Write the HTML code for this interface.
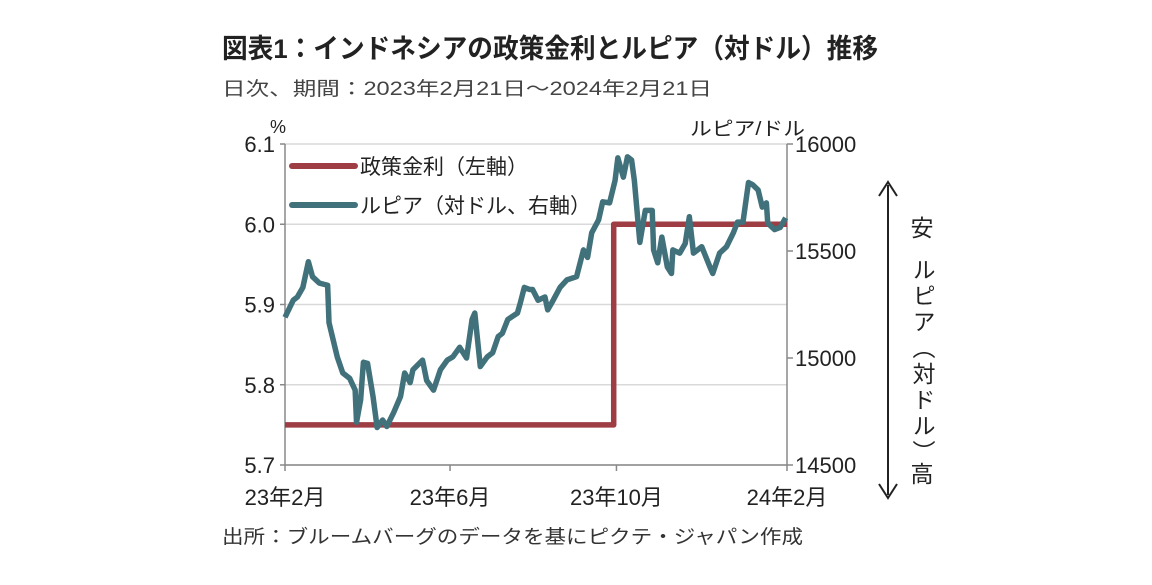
<!DOCTYPE html>
<html><head><meta charset="utf-8">
<style>
body{margin:0;background:#fff;width:1152px;height:580px;overflow:hidden;font-family:"Liberation Sans","Noto Sans CJK JP",sans-serif;}
svg text{font-family:"Liberation Sans","Noto Sans CJK JP",sans-serif;}
</style></head>
<body>
<svg id="chart" width="1152" height="580">
<text x="222" y="58" font-size="27" font-weight="bold" fill="#222" textLength="656" lengthAdjust="spacingAndGlyphs">図表1：インドネシアの政策金利とルピア（対ドル）推移</text>
<text x="222" y="95" font-size="19" fill="#444" textLength="490" lengthAdjust="spacingAndGlyphs">日次、期間：2023年2月21日～2024年2月21日</text>
<text x="270" y="133" font-size="18" fill="#222">%</text>
<text x="690" y="135" font-size="19" fill="#222" textLength="115" lengthAdjust="spacingAndGlyphs">ルピア/ドル</text>
<g id="grid"></g><g id="axes"></g><g id="series"></g>
<g>
<line x1="292" y1="166" x2="355" y2="166" stroke="#9e3d44" stroke-width="6" stroke-linecap="round"/>
<text x="360" y="174" font-size="21" fill="#222">政策金利（左軸）</text>
<line x1="292" y1="205" x2="355" y2="205" stroke="#41717a" stroke-width="6" stroke-linecap="round"/>
<text x="360" y="213" font-size="21" fill="#222">ルピア（対ドル、右軸）</text>
</g>
<g>
<line x1="888" y1="185" x2="888" y2="495" stroke="#222" stroke-width="2"/>
<polyline points="879,196 888,182 897,196" fill="none" stroke="#222" stroke-width="2"/>
<polyline points="879,484 888,498 897,484" fill="none" stroke="#222" stroke-width="2"/>
</g>
<text x="922" y="236" font-size="23" fill="#222" text-anchor="middle">安</text>
<text x="922" y="258" font-size="23" fill="#222" style="writing-mode:vertical-rl;letter-spacing:3px">ルピア（対ドル）</text>
<text x="922" y="482" font-size="23" fill="#222" text-anchor="middle">高</text>
<text x="222" y="543" font-size="19" fill="#333" textLength="581" lengthAdjust="spacingAndGlyphs">出所：ブルームバーグのデータを基にピクテ・ジャパン作成</text>
</svg>
<script>
const leftTicks=[5.7,5.8,5.9,6.0,6.1];
const leftTickLabels=["5.7","5.8","5.9","6.0","6.1"];
const rightTicks=[14500,15000,15500,16000];
const rightTickLabels=["14500","15000","15500","16000"];
const xTickDays=[0,120,241,365];
const xTickLabels=["23年2月","23年6月","23年10月","24年2月"];
const rateDays=[0,239,239,365];
const rateValues=[5.75,5.75,6.0,6.0];
const fxDays=[0,6,9,13,17,20,25,31,32,35,38,42,47,51,52,55,57,60,64,67,71,74,79,84,87,91,93,100,103,108,113,118,122,127,132,136,138,142,147,151,155,158,162,169,171,174,178,180,184,189,191,195,200,205,212,217,220,223,228,231,236,240,242,246,249,252,254,258,262,267,268,271,274,278,281,282,287,291,294,297,303,309,311,316,321,326,329,333,337,340,344,347,350,351,356,360,364];
const fxValues=[15190,15270,15285,15330,15450,15380,15350,15340,15165,15085,15005,14930,14905,14850,14700,14805,14980,14975,14820,14675,14710,14680,14745,14820,14930,14885,14945,14990,14895,14850,14945,14990,15005,15050,15000,15180,15210,14960,15005,15025,15100,15115,15180,15210,15255,15330,15320,15320,15270,15285,15225,15270,15330,15365,15380,15505,15470,15585,15645,15730,15725,15830,15935,15845,15940,15925,15830,15540,15690,15690,15505,15445,15565,15425,15395,15505,15490,15535,15660,15490,15520,15425,15395,15490,15520,15585,15635,15635,15820,15810,15785,15705,15725,15630,15600,15610,15655];
const X0=285,X1=787,Y0=465,Y1=144;
const xs=d=>X0+(X1-X0)*d/365;
const yl=v=>Y0-(v-5.7)/0.4*(Y0-Y1);
const yr=v=>Y0-(v-14500)/1500*(Y0-Y1);
const NS="http://www.w3.org/2000/svg";
function mk(tag,attrs,parent,txt){const e=document.createElementNS(NS,tag);for(const k in attrs)e.setAttribute(k,attrs[k]);if(txt!==undefined)e.textContent=txt;document.getElementById(parent).appendChild(e);return e;}
leftTicks.forEach((t,i)=>{
  const g=mk('line',{x1:X0,x2:X1,y1:yl(t),y2:yl(t),stroke:'#d9d9d9','stroke-width':1.5},'grid');
  
  
  const tk=mk('line',{x1:X0-5,x2:X0,y1:yl(t),y2:yl(t),stroke:'#888','stroke-width':1.5},'axes');
  
  
  const l=mk('text',{x:X0-10,y:yl(t)+8,'font-size':22,'text-anchor':'end',fill:'#222'},'axes',leftTickLabels[i]);
  
  
});
rightTicks.forEach((t,i)=>{
  const tk=mk('line',{x1:X1,x2:X1+6,y1:yr(t),y2:yr(t),stroke:'#888','stroke-width':1.5},'axes');
  
  
  const l=mk('text',{x:X1+8,y:yr(t)+8,'font-size':22,fill:'#222'},'axes',rightTickLabels[i]);
  
  
});
xTickDays.forEach((d,i)=>{
  const tk=mk('line',{x1:xs(d),x2:xs(d),y1:Y0,y2:Y0+6,stroke:'#888','stroke-width':1.5},'axes');
  
  
  const l=mk('text',{x:xs(d),y:Y0+40,'font-size':22,'text-anchor':'middle',fill:'#222'},'axes',xTickLabels[i]);
  
  
});
const la=mk('line',{x1:X0,x2:X0,y1:Y1,y2:Y0,stroke:'#888','stroke-width':1.5},'axes');


const ra=mk('line',{x1:X1,x2:X1,y1:Y1,y2:Y0,stroke:'#888','stroke-width':1.5},'axes');


const xa=mk('line',{x1:X0,x2:X1,y1:Y0,y2:Y0,stroke:'#888','stroke-width':1.5},'axes');


const rp=mk('polyline',{points:rateDays.map((d,i)=>xs(d)+','+yl(rateValues[i])).join(' '),fill:'none',stroke:'#9e3d44','stroke-width':5.5,'stroke-linejoin':'round'},'series');


const fp=mk('polyline',{points:fxDays.map((d,i)=>xs(d)+','+yr(fxValues[i])).join(' '),fill:'none',stroke:'#41717a','stroke-width':5.5,'stroke-linejoin':'round'},'series');


</script>
</body></html>
